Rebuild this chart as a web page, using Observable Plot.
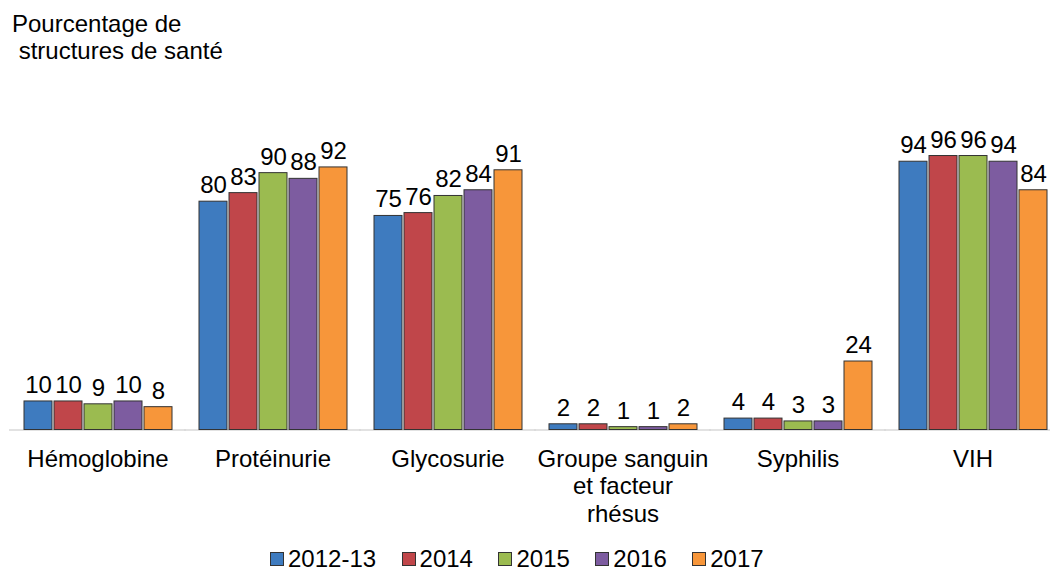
<!DOCTYPE html>
<html><head><meta charset="utf-8">
<script src="https://cdn.jsdelivr.net/npm/d3@7"></script>
<script src="https://cdn.jsdelivr.net/npm/@observablehq/plot@0.6"></script>
<style>
body{margin:0;width:1050px;height:570px;overflow:hidden;background:#fff;font-family:"Liberation Sans",Arial,sans-serif;color:#000;position:relative}
#title{position:absolute;left:12px;top:11px;font-size:24px;line-height:26.5px;white-space:pre}
#chart{position:absolute;left:0;top:70px}
#legend{position:absolute;left:270px;top:546px;display:flex;font-size:24px;line-height:26px;white-space:nowrap}
.item{display:flex;align-items:center;margin-right:25.5px}
.sw{width:12px;height:12px;border:1px solid #333;margin-right:4px}
</style>
</head><body>
<div id="title">Pourcentage de
 structures de santé</div>
<div id="chart"></div>
<div id="legend"></div>
<script>
const categories = ["Hémoglobine", "Protéinurie", "Glycosurie", "Groupe sanguin\net facteur\nrhésus", "Syphilis", "VIH"];
const series = ["2012-13", "2014", "2015", "2016", "2017"];
const colors = ["#3e7bbf", "#c0464a", "#9bbb50", "#7d5ca0", "#f7963a"];
const v2012_13 = [10, 80, 75, 2, 4, 94];
const v2014 = [10, 83, 76, 2, 4, 96];
const v2015 = [9, 90, 82, 1, 3, 96];
const v2016 = [10, 88, 84, 1, 3, 94];
const v2017 = [8, 92, 91, 2, 24, 84];

const valuesBySeries = [v2012_13, v2014, v2015, v2016, v2017];
const rows = [];
categories.forEach((cat, i) => {
  series.forEach((s, j) => rows.push({cat, series: s, value: valuesBySeries[j][i]}));
});

const chart = Plot.plot({
  width: 1050,
  height: 470,
  marginTop: 74.1,
  marginBottom: 110.5,
  marginLeft: 23,
  marginRight: 3,
  style: {fontFamily: '"Liberation Sans", Arial, sans-serif', fontSize: "24px", color: "#000", background: "transparent"},
  fx: {domain: categories, paddingInner: 0.15, paddingOuter: 0, axis: null, label: null},
  x: {domain: series, paddingInner: 0.067, paddingOuter: 0, axis: null, label: null},
  y: {domain: [0, 100], axis: null, label: null},
  color: {domain: series, range: colors},
  marks: [
    Plot.ruleY([0], {stroke: "#d9d9d9", strokeWidth: 1.5, insetLeft: -14, insetRight: -14}),
    Plot.barY(rows, {fx: "cat", x: "series", y: "value", fill: "series", stroke: "#333", strokeWidth: 1}),
    Plot.text(rows, {fx: "cat", x: "series", y: "value", text: d => String(d.value), lineAnchor: "bottom", dy: -8.5}),
    Plot.text(categories, {fx: d => d, text: d => d, frameAnchor: "bottom", lineAnchor: "top", dy: 17.5, lineHeight: 1.14})
  ]
});
document.getElementById("chart").appendChild(chart);

const legend = document.getElementById("legend");
series.forEach((s, j) => {
  const item = document.createElement("div");
  item.className = "item";
  const sw = document.createElement("div");
  sw.className = "sw";
  sw.style.background = colors[j];
  const t = document.createElement("span");
  t.textContent = s;
  item.appendChild(sw);
  item.appendChild(t);
  legend.appendChild(item);
});
</script>
</body></html>
